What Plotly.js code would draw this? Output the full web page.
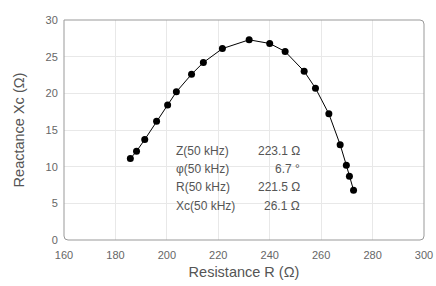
<!DOCTYPE html>
<html>
<head>
<meta charset="utf-8">
<script src="https://cdn.plot.ly/plotly-3.0.1.min.js"></script>
<style>html,body{margin:0;padding:0;background:#fff}#chart{width:436px;height:286px}</style>
</head>
<body>
<div id="chart"></div>
<script>
var resistance = [185.8, 188.2, 191.4, 196.0, 200.3, 203.7, 209.6, 214.2, 221.6, 232.0, 240.0, 246.0, 253.4, 257.8, 263.0, 267.4, 269.8, 271.0, 272.6];
var reactance  = [11.1, 12.1, 13.7, 16.2, 18.4, 20.2, 22.6, 24.2, 26.1, 27.3, 26.8, 25.7, 23.0, 20.7, 17.2, 13.0, 10.2, 8.7, 6.8];
var infoLabels = ["Z(50 kHz)", "φ(50 kHz)", "R(50 kHz)", "Xc(50 kHz)"];
var infoValues = ["223.1 Ω", "6.7 °", "221.5 Ω", "26.1 Ω"];
var xTicks = [160, 180, 200, 220, 240, 260, 280, 300];
var yTicks = [0, 5, 10, 15, 20, 25, 30];

var font = "Liberation Sans, Arial, sans-serif";
var trace = {
  x: resistance, y: reactance, type: "scatter", mode: "lines+markers",
  line: {color: "#000", width: 1},
  marker: {color: "#000", size: 7},
  hoverinfo: "none"
};

var annotations = [];
var rowY = [0.4045, 0.3227, 0.241, 0.1545];
infoLabels.forEach(function (lab, i) {
  annotations.push({xref: "paper", yref: "paper", x: 0.3056, y: rowY[i], xanchor: "left", yanchor: "middle",
    text: lab, showarrow: false, font: {family: font, size: 12, color: "#555"}});
  annotations.push({xref: "paper", yref: "paper", x: 0.661, y: rowY[i], xanchor: "right", yanchor: "middle",
    text: infoValues[i], showarrow: false, font: {family: font, size: 12, color: "#555"}});
});

var rx = 4 / 360, ry = 4 / 220;
var borderPath = "M0,1 L" + (1 - rx) + ",1 Q1,1 1," + (1 - ry) +
  " L1," + ry + " Q1,0 " + (1 - rx) + ",0 L" + rx + ",0 Q0,0 0," + ry + " Z";

var layout = {
  width: 436, height: 286,
  margin: {l: 64, r: 12, t: 20, b: 46},
  paper_bgcolor: "#fff", plot_bgcolor: "#fff",
  showlegend: false,
  font: {family: font},
  xaxis: {
    range: [160, 300], tickvals: xTicks, ticktext: xTicks.map(String),
    showgrid: true, gridcolor: "#e8e8e8", gridwidth: 1, zeroline: false, showline: false,
    ticks: "outside", ticklen: 5, tickcolor: "rgba(0,0,0,0)",
    tickfont: {family: font, size: 11, color: "#666"},
    title: {text: "Resistance R (Ω)", font: {family: font, size: 14.5, color: "#555"}, standoff: 6}
  },
  yaxis: {
    range: [0, 30], tickvals: yTicks, ticktext: yTicks.map(String),
    showgrid: true, gridcolor: "#e8e8e8", gridwidth: 1, zeroline: false, showline: false,
    ticks: "outside", ticklen: 3, tickcolor: "rgba(0,0,0,0)",
    tickfont: {family: font, size: 11, color: "#666"},
    title: {text: "Reactance Xc (Ω)", font: {family: font, size: 14.5, color: "#555"}, standoff: 17}
  },
  shapes: [
    {type: "rect", xref: "paper", yref: "paper", x0: 0.283, x1: 0.703, y0: 0.0636, y1: 0.527,
     fillcolor: "#fff", line: {width: 0}, layer: "between"},
    {type: "path", xref: "paper", yref: "paper", path: borderPath,
     line: {color: "#999", width: 1}, layer: "above"}
  ],
  annotations: annotations
};

Plotly.newPlot("chart", [trace], layout, {displayModeBar: false, staticPlot: true});
</script>
</body>
</html>
